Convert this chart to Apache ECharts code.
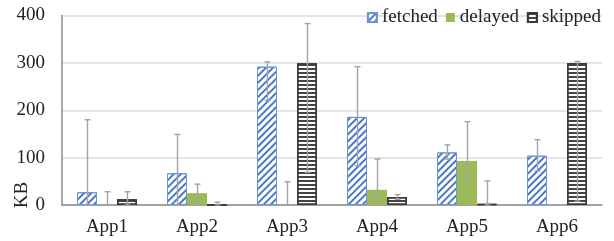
<!DOCTYPE html>
<html>
<head>
<meta charset="utf-8">
<script src="https://cdn.jsdelivr.net/npm/echarts@6/dist/echarts.min.js"></script>
<style>
  html, body { margin: 0; padding: 0; background: #fff; }
  #chart { width: 614px; height: 241px; }
</style>
</head>
<body>
<div id="chart"></div>
<script>
// カテゴリ（アプリ名）
const categories = ['App1', 'App2', 'App3', 'App4', 'App5', 'App6'];

// 各系列の値（KB）
const fetched = [27, 67, 292, 186, 111, 104];
const delayed = [0, 25, 0, 32, 93, 0];
const skipped = [12, 0, 299, 17, 2, 300];

// エラーバーの下端・上端
const fetchedLow = [0, 0, 221, 83, 97, 72];
const fetchedHigh = [180, 149, 302, 292, 127, 138];
const delayedLow = [0, 6, 0, 16, 46, 0];
const delayedHigh = [28, 44, 49, 97, 176, 0];
const skippedLow = [0, 0, 69, 12, 0, 8];
const skippedHigh = [28, 6, 383, 22, 51, 303];

// 軸の目盛り
const yTicks = { min: 0, max: 400, interval: 100 };

const font = 'Liberation Serif';
const barWidth = 20;
const errColor = '#a3a3a3';

const chart = echarts.init(document.querySelector('#chart'));

// エラーバー用のcustom系列を作る
function errorSeries(name, low, high, index) {
  return {
    name: name + '-err',
    type: 'custom',
    z: 10,
    data: categories.map((c, i) => [i, low[i], high[i]]),
    encode: { x: 0, y: [1, 2] },
    renderItem: (params, api) => {
      const i = api.value(0);
      const top = api.coord([i, api.value(2)]);
      const bottom = api.coord([i, api.value(1)]);
      const x = Math.round(top[0] + (index - 1) * barWidth) + 0.5;
      const cap = 3;
      const style = { stroke: errColor, lineWidth: 1.4 };
      return {
        type: 'group',
        children: [
          { type: 'line', shape: { x1: x, y1: top[1], x2: x, y2: bottom[1] }, style },
          { type: 'line', shape: { x1: x - cap, y1: top[1], x2: x + cap, y2: top[1] }, style },
          { type: 'line', shape: { x1: x - cap, y1: bottom[1], x2: x + cap, y2: bottom[1] }, style }
        ]
      };
    }
  };
}

const option = {
  animation: false,
  textStyle: { fontFamily: font },
  grid: { left: 62, right: 12, top: 15.5, bottom: 36 },
  legend: {
    data: ['fetched', 'delayed', 'skipped'],
    right: 8,
    top: 3,
    itemWidth: 9,
    itemHeight: 9,
    itemGap: 8,
    icon: 'rect',
    textStyle: { fontFamily: font, fontSize: 19, color: '#222' }
  },
  xAxis: {
    type: 'category',
    data: categories,
    axisLine: { lineStyle: { color: '#8c8c8c', width: 1.5 } },
    axisTick: { show: false },
    axisLabel: { fontFamily: font, fontSize: 19, color: '#222', margin: 13 }
  },
  yAxis: {
    type: 'value',
    min: yTicks.min,
    max: yTicks.max,
    interval: yTicks.interval,
    axisLine: { show: true, lineStyle: { color: '#8c8c8c', width: 1.5 } },
    axisTick: { show: false },
    splitLine: { lineStyle: { color: '#dcdcdc', width: 1.5 } },
    axisLabel: { fontFamily: font, fontSize: 19, color: '#222', margin: 17 }
  },
  graphic: [{
    type: 'text',
    x: 22,
    y: 195,
    rotation: Math.PI / 2,
    style: {
      text: 'KB',
      font: '19px "Liberation Serif"',
      fill: '#222',
      textAlign: 'center',
      textVerticalAlign: 'middle'
    }
  }],
  series: [
    {
      name: 'fetched',
      type: 'bar',
      data: fetched,
      barWidth: barWidth,
      barGap: '0%',
      itemStyle: {
        color: '#fff',
        borderColor: '#6a95d6',
        borderWidth: 1,
        decal: {
          symbol: 'rect',
          symbolKeepAspect: false,
          color: '#4a78c6',
          dashArrayX: [1, 0],
          dashArrayY: [2, 2.2],
          rotation: -Math.PI / 4
        }
      }
    },
    {
      name: 'delayed',
      type: 'bar',
      data: delayed,
      barWidth: barWidth,
      barGap: '0%',
      itemStyle: { color: '#9bbb59' }
    },
    {
      name: 'skipped',
      type: 'bar',
      data: skipped,
      barWidth: barWidth,
      barGap: '0%',
      itemStyle: {
        color: '#fff',
        borderColor: '#3a3a3a',
        borderWidth: 1.5,
        decal: {
          symbol: 'rect',
          symbolKeepAspect: false,
          color: '#444',
          dashArrayX: [1, 0],
          dashArrayY: [2, 2],
          rotation: 0
        }
      }
    },
    errorSeries('fetched', fetchedLow, fetchedHigh, 0),
    errorSeries('delayed', delayedLow, delayedHigh, 1),
    errorSeries('skipped', skippedLow, skippedHigh, 2)
  ]
};

chart.setOption(option);
</script>
</body>
</html>
